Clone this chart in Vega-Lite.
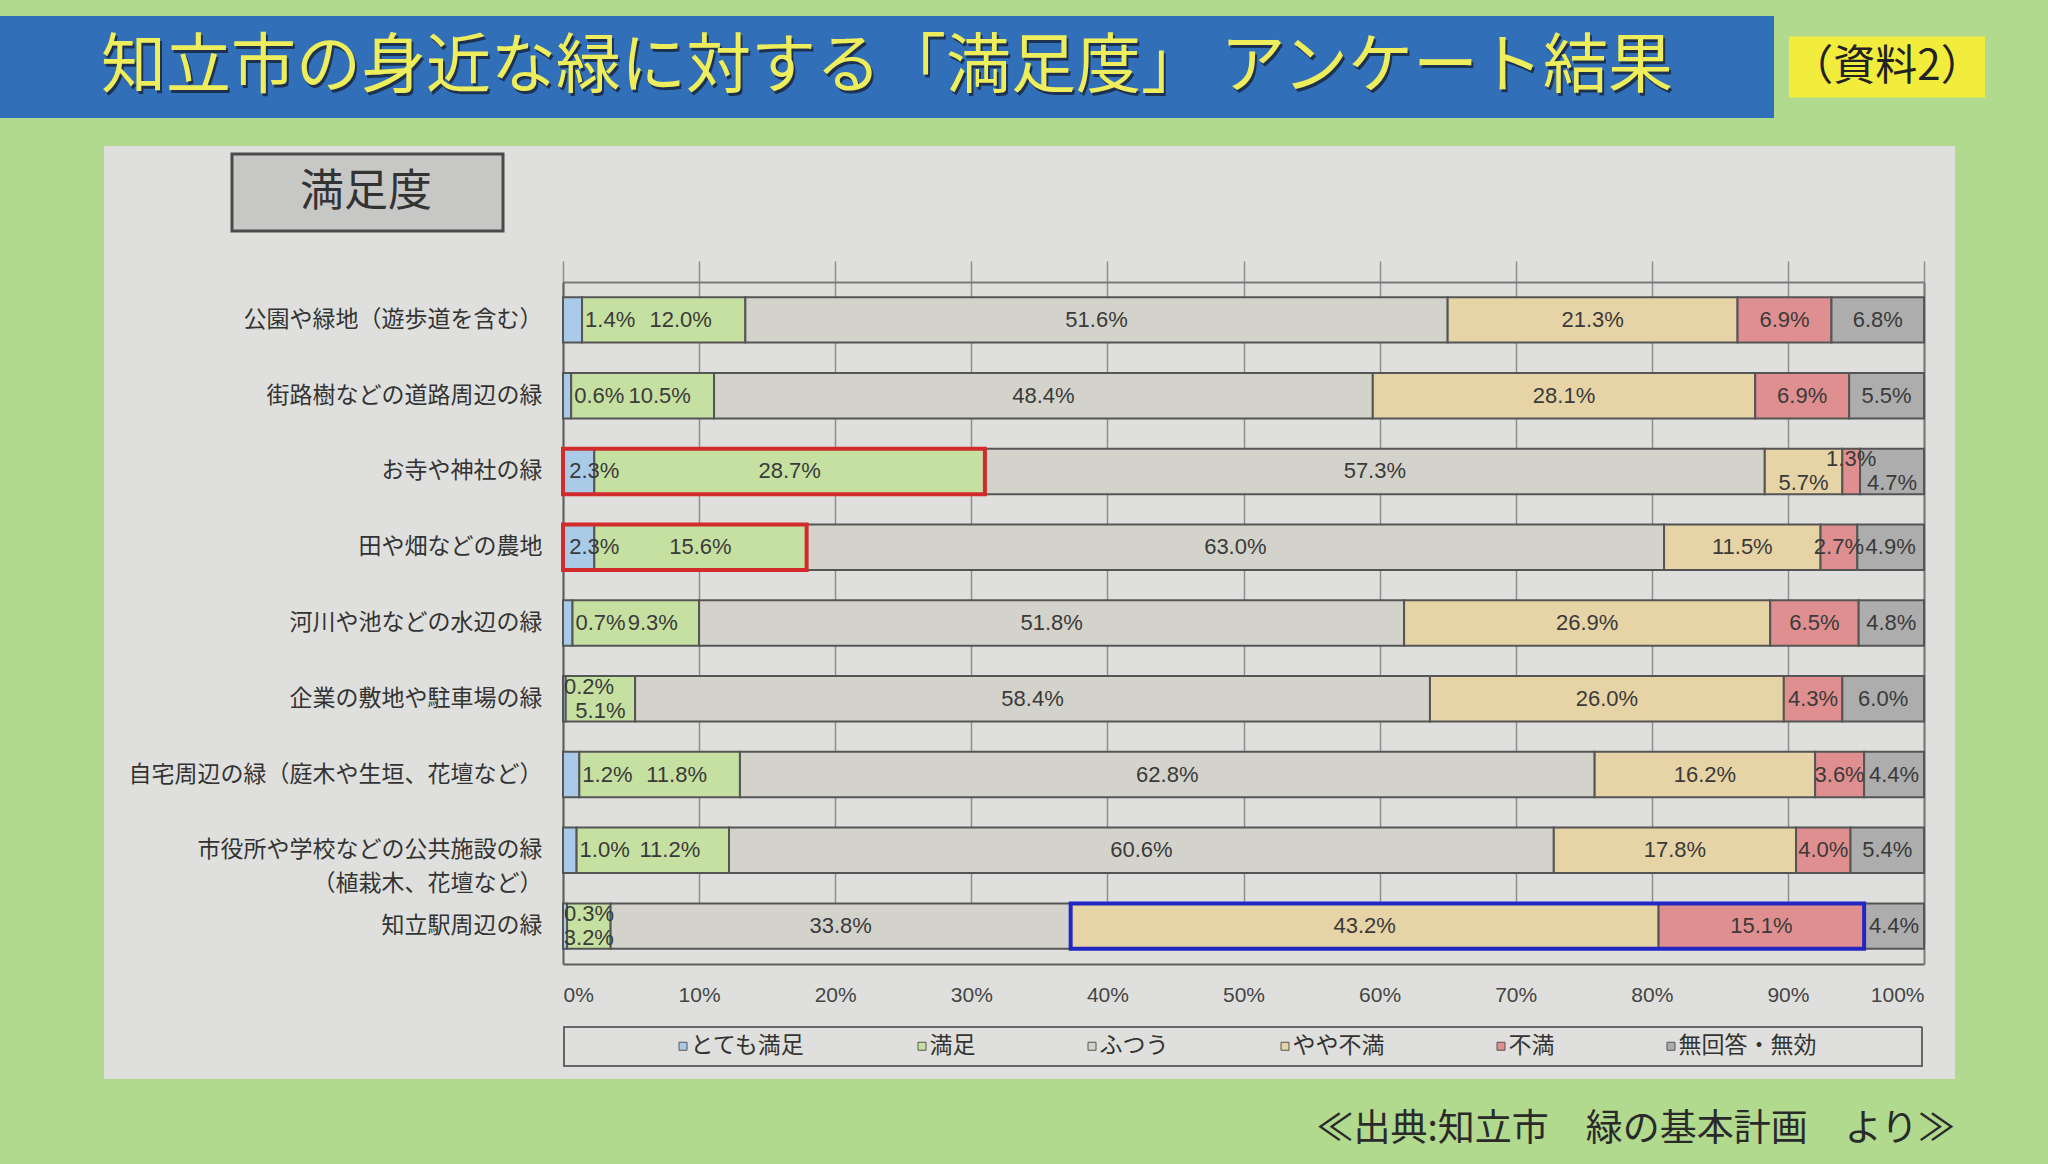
{
  "$schema": "https://vega.github.io/schema/vega-lite/v6.json",
  "background": "#b1da8e",
  "padding": {"left": 0, "top": 16, "right": 63, "bottom": 20},
  "spacing": 28,
  "config": {
    "font": "Noto Sans CJK JP",
    "view": {"stroke": null}
  },
  "vconcat": [
    {
      "hconcat": [
        {
          "width": 1774,
          "height": 102,
          "view": {"fill": "#3170b8", "stroke": null},
          "data": {"values": [{"t": "知立市の身近な緑に対する「満足度」 アンケート結果"}]},
          "layer": [
            {"mark": {"type": "text", "fontSize": 65, "color": "#1d3150", "dx": 2, "dy": 3}, "encoding": {"text": {"field": "t"}}},
            {"mark": {"type": "text", "fontSize": 65, "color": "#eeee5c"}, "encoding": {"text": {"field": "t"}}}
          ]
        },
        {
          "width": 196,
          "height": 61,
          "view": {"fill": "#f2ec3d", "stroke": null},
          "data": {"values": [{"t": "（資料2）"}]},
          "mark": {"type": "text", "fontSize": 42, "color": "#222222"},
          "encoding": {"text": {"field": "t"}}
        }
      ],
      "spacing": 15,
      "center": true
    },
    {
      "hconcat": [
        {
          "width": 89,
          "height": 10,
          "view": {"stroke": null},
          "data": {"values": []},
          "layer": [
            {
              "mark": {"type": "point", "filled": false, "fill": "#c7c8c6", "stroke": "#4a4a4a", "strokeWidth": 3, "opacity": 1},
              "encoding": {
                "shape": {"datum": "満足度", "scale": {"range": ["M-1,-0.2841H1V0.2841H-1Z"]},
                  "legend": {"orient": "none", "legendX": 230.5, "legendY": 39.5, "title": null, "padding": 0, "symbolSize": 73441, "symbolStrokeWidth": 3, "symbolFillColor": "#c7c8c6", "symbolStrokeColor": "#4a4a4a", "symbolOpacity": 1, "labelFontSize": 44, "labelColor": "#333333", "labelOffset": -204.5, "labelLimit": 400}}
              }
            },
            {
              "mark": {"type": "point", "filled": false, "strokeWidth": 3, "opacity": 1},
              "encoding": {
                "stroke": {"datum": "満足度枠", "scale": {"range": ["#4a4a4a"]},
                  "legend": {"orient": "none", "legendX": 230.5, "legendY": 39.5, "title": null, "padding": 0, "symbolType": "M-1,-0.2841H1V0.2841H-1Z", "symbolSize": 73441, "symbolStrokeWidth": 3, "symbolFillColor": "transparent", "symbolOpacity": 1, "labelExpr": "''", "labelFontSize": 44}}
              }
            },
            {
              "mark": {"type": "point", "filled": false, "stroke": "#666666", "strokeWidth": 2, "opacity": 1},
              "encoding": {
                "strokeDash": {"datum": "枠", "scale": {"range": [[1, 0]]},
                  "legend": {"orient": "none", "legendX": 563, "legendY": 350.5, "title": null, "padding": 0, "symbolType": "M-1,-0.0287H1V0.0287H-1Z", "symbolSize": 1844164, "symbolStrokeWidth": 2, "symbolStrokeColor": "#666666", "symbolFillColor": "transparent", "symbolOpacity": 1, "labelExpr": "''", "labelFontSize": 1}}
              }
            }
          ]
        },
        {
          "width": 1851,
          "height": 933,
          "view": {"fill": "#dfe0dd", "stroke": null},
          "title": {"text": "≪出典:知立市　緑の基本計画　より≫", "orient": "bottom", "anchor": "end", "frame": "group", "offset": 33, "fontSize": 37, "fontWeight": "normal", "color": "#2a2a2a"},
          "data": {"values": [
            {"item": "公園や緑地（遊歩道を含む）", "level": "とても満足", "k": 1, "v": 0.014},
            {"item": "公園や緑地（遊歩道を含む）", "level": "満足", "k": 2, "v": 0.120},
            {"item": "公園や緑地（遊歩道を含む）", "level": "ふつう", "k": 3, "v": 0.516},
            {"item": "公園や緑地（遊歩道を含む）", "level": "やや不満", "k": 4, "v": 0.213},
            {"item": "公園や緑地（遊歩道を含む）", "level": "不満", "k": 5, "v": 0.069},
            {"item": "公園や緑地（遊歩道を含む）", "level": "無回答・無効", "k": 6, "v": 0.068},
            {"item": "街路樹などの道路周辺の緑", "level": "とても満足", "k": 1, "v": 0.006},
            {"item": "街路樹などの道路周辺の緑", "level": "満足", "k": 2, "v": 0.105},
            {"item": "街路樹などの道路周辺の緑", "level": "ふつう", "k": 3, "v": 0.484},
            {"item": "街路樹などの道路周辺の緑", "level": "やや不満", "k": 4, "v": 0.281},
            {"item": "街路樹などの道路周辺の緑", "level": "不満", "k": 5, "v": 0.069},
            {"item": "街路樹などの道路周辺の緑", "level": "無回答・無効", "k": 6, "v": 0.055},
            {"item": "お寺や神社の緑", "level": "とても満足", "k": 1, "v": 0.023},
            {"item": "お寺や神社の緑", "level": "満足", "k": 2, "v": 0.287},
            {"item": "お寺や神社の緑", "level": "ふつう", "k": 3, "v": 0.573},
            {"item": "お寺や神社の緑", "level": "やや不満", "k": 4, "v": 0.057},
            {"item": "お寺や神社の緑", "level": "不満", "k": 5, "v": 0.013},
            {"item": "お寺や神社の緑", "level": "無回答・無効", "k": 6, "v": 0.047},
            {"item": "田や畑などの農地", "level": "とても満足", "k": 1, "v": 0.023},
            {"item": "田や畑などの農地", "level": "満足", "k": 2, "v": 0.156},
            {"item": "田や畑などの農地", "level": "ふつう", "k": 3, "v": 0.630},
            {"item": "田や畑などの農地", "level": "やや不満", "k": 4, "v": 0.115},
            {"item": "田や畑などの農地", "level": "不満", "k": 5, "v": 0.027},
            {"item": "田や畑などの農地", "level": "無回答・無効", "k": 6, "v": 0.049},
            {"item": "河川や池などの水辺の緑", "level": "とても満足", "k": 1, "v": 0.007},
            {"item": "河川や池などの水辺の緑", "level": "満足", "k": 2, "v": 0.093},
            {"item": "河川や池などの水辺の緑", "level": "ふつう", "k": 3, "v": 0.518},
            {"item": "河川や池などの水辺の緑", "level": "やや不満", "k": 4, "v": 0.269},
            {"item": "河川や池などの水辺の緑", "level": "不満", "k": 5, "v": 0.065},
            {"item": "河川や池などの水辺の緑", "level": "無回答・無効", "k": 6, "v": 0.048},
            {"item": "企業の敷地や駐車場の緑", "level": "とても満足", "k": 1, "v": 0.002},
            {"item": "企業の敷地や駐車場の緑", "level": "満足", "k": 2, "v": 0.051},
            {"item": "企業の敷地や駐車場の緑", "level": "ふつう", "k": 3, "v": 0.584},
            {"item": "企業の敷地や駐車場の緑", "level": "やや不満", "k": 4, "v": 0.260},
            {"item": "企業の敷地や駐車場の緑", "level": "不満", "k": 5, "v": 0.043},
            {"item": "企業の敷地や駐車場の緑", "level": "無回答・無効", "k": 6, "v": 0.060},
            {"item": "自宅周辺の緑（庭木や生垣、花壇など）", "level": "とても満足", "k": 1, "v": 0.012},
            {"item": "自宅周辺の緑（庭木や生垣、花壇など）", "level": "満足", "k": 2, "v": 0.118},
            {"item": "自宅周辺の緑（庭木や生垣、花壇など）", "level": "ふつう", "k": 3, "v": 0.628},
            {"item": "自宅周辺の緑（庭木や生垣、花壇など）", "level": "やや不満", "k": 4, "v": 0.162},
            {"item": "自宅周辺の緑（庭木や生垣、花壇など）", "level": "不満", "k": 5, "v": 0.036},
            {"item": "自宅周辺の緑（庭木や生垣、花壇など）", "level": "無回答・無効", "k": 6, "v": 0.044},
            {"item": "市役所や学校などの公共施設の緑（植栽木、花壇など）", "level": "とても満足", "k": 1, "v": 0.010},
            {"item": "市役所や学校などの公共施設の緑（植栽木、花壇など）", "level": "満足", "k": 2, "v": 0.112},
            {"item": "市役所や学校などの公共施設の緑（植栽木、花壇など）", "level": "ふつう", "k": 3, "v": 0.606},
            {"item": "市役所や学校などの公共施設の緑（植栽木、花壇など）", "level": "やや不満", "k": 4, "v": 0.178},
            {"item": "市役所や学校などの公共施設の緑（植栽木、花壇など）", "level": "不満", "k": 5, "v": 0.040},
            {"item": "市役所や学校などの公共施設の緑（植栽木、花壇など）", "level": "無回答・無効", "k": 6, "v": 0.054},
            {"item": "知立駅周辺の緑", "level": "とても満足", "k": 1, "v": 0.003},
            {"item": "知立駅周辺の緑", "level": "満足", "k": 2, "v": 0.032},
            {"item": "知立駅周辺の緑", "level": "ふつう", "k": 3, "v": 0.338},
            {"item": "知立駅周辺の緑", "level": "やや不満", "k": 4, "v": 0.432},
            {"item": "知立駅周辺の緑", "level": "不満", "k": 5, "v": 0.151},
            {"item": "知立駅周辺の緑", "level": "無回答・無効", "k": 6, "v": 0.044}
          ]},
          "resolve": {"axis": {"x": "independent", "y": "independent"}},
          "layer": [
            {
              "mark": {"type": "bar", "stroke": "#555555", "strokeWidth": 2},
              "encoding": {
                "y": {"field": "item", "type": "nominal", "title": null,
                  "sort": ["公園や緑地（遊歩道を含む）", "街路樹などの道路周辺の緑", "お寺や神社の緑", "田や畑などの農地", "河川や池などの水辺の緑", "企業の敷地や駐車場の緑", "自宅周辺の緑（庭木や生垣、花壇など）", "市役所や学校などの公共施設の緑（植栽木、花壇など）", "知立駅周辺の緑"],
                  "scale": {"range": [136, 818], "paddingInner": 0.4, "paddingOuter": 0.2},
                  "axis": {"orient": "left", "offset": -459, "domain": true, "domainColor": "#5f5f5f", "domainWidth": 2, "ticks": false, "tickSize": 0, "grid": false, "labelPadding": 21, "labelFontSize": 23, "labelColor": "#333333", "labelLimit": 600, "labelLineHeight": 34,
                    "labelExpr": "datum.value === '市役所や学校などの公共施設の緑（植栽木、花壇など）' ? ['市役所や学校などの公共施設の緑', '（植栽木、花壇など）　　　'] : datum.label"}},
                "x": {"field": "v", "type": "quantitative", "stack": "zero", "title": null,
                  "scale": {"domain": [0, 1], "range": [459, 1820], "nice": false},
                  "axis": {"orient": "bottom", "offset": -115, "values": [0, 0.1, 0.2, 0.3, 0.4, 0.5, 0.6, 0.7, 0.8, 0.9, 1], "format": ".0%", "domain": true, "domainColor": "#5f5f5f", "domainWidth": 2, "ticks": false, "tickSize": 0, "labelPadding": 20, "labelFont": "Liberation Sans Narrow, Liberation Sans, sans-serif", "labelFontSize": 21, "labelColor": "#444444", "grid": true, "gridColor": "#8e8e8e", "gridWidth": 1.5}},
                "color": {"field": "level", "type": "nominal",
                  "scale": {"domain": ["とても満足", "満足", "ふつう", "やや不満", "不満", "無回答・無効"], "range": ["#a9cbe8", "#c6e0a2", "#d4d3cb", "#e6d3a6", "#df8f8f", "#adadad"]},
                  "legend": {"orient": "none", "legendX": 671.5, "legendY": 1018.5, "direction": "horizontal", "columns": 6, "title": null, "padding": 0, "labelFontSize": 23, "labelColor": "#333333", "symbolType": "square", "symbolSize": 64, "symbolStrokeColor": "#555555", "symbolStrokeWidth": 1, "labelOffset": -4, "columnPadding": 105}},
                "order": {"field": "k", "type": "quantitative"}
              }
            },
            {
              "transform": [
                {"stack": "v", "groupby": ["item"], "sort": [{"field": "k", "order": "ascending"}], "as": ["s0", "s1"]},
                {"filter": {"field": "item", "oneOf": ["お寺や神社の緑", "田や畑などの農地"]}},
                {"filter": {"field": "level", "oneOf": ["とても満足", "満足"]}},
                {"aggregate": [{"op": "min", "field": "s0", "as": "a"}, {"op": "max", "field": "s1", "as": "b"}], "groupby": ["item"]}
              ],
              "mark": {"type": "bar", "filled": false, "stroke": "#d22b2b", "strokeWidth": 4},
              "encoding": {
                "y": {"field": "item", "type": "nominal", "title": null,
                  "sort": ["公園や緑地（遊歩道を含む）", "街路樹などの道路周辺の緑", "お寺や神社の緑", "田や畑などの農地", "河川や池などの水辺の緑", "企業の敷地や駐車場の緑", "自宅周辺の緑（庭木や生垣、花壇など）", "市役所や学校などの公共施設の緑（植栽木、花壇など）", "知立駅周辺の緑"],
                  "axis": {"orient": "right", "offset": -31, "labels": false, "ticks": false, "tickSize": 0, "grid": false, "domain": true, "domainColor": "#7a7a7a", "domainWidth": 2}},
                "x": {"field": "a", "type": "quantitative", "title": null,
                  "axis": {"orient": "top", "offset": -136, "labels": false, "ticks": false, "tickSize": 0, "grid": false, "domain": true, "domainColor": "#7a7a7a", "domainWidth": 2}},
                "x2": {"field": "b"}
              }
            },
            {
              "transform": [
                {"stack": "v", "groupby": ["item"], "sort": [{"field": "k", "order": "ascending"}], "as": ["s0", "s1"]},
                {"filter": {"field": "item", "oneOf": ["知立駅周辺の緑"]}},
                {"filter": {"field": "level", "oneOf": ["やや不満", "不満"]}},
                {"aggregate": [{"op": "min", "field": "s0", "as": "a"}, {"op": "max", "field": "s1", "as": "b"}], "groupby": ["item"]}
              ],
              "mark": {"type": "bar", "filled": false, "stroke": "#2327c2", "strokeWidth": 4},
              "encoding": {
                "y": {"field": "item", "type": "nominal", "axis": null,
                  "sort": ["公園や緑地（遊歩道を含む）", "街路樹などの道路周辺の緑", "お寺や神社の緑", "田や畑などの農地", "河川や池などの水辺の緑", "企業の敷地や駐車場の緑", "自宅周辺の緑（庭木や生垣、花壇など）", "市役所や学校などの公共施設の緑（植栽木、花壇など）", "知立駅周辺の緑"]},
                "x": {"field": "a", "type": "quantitative", "axis": null},
                "x2": {"field": "b"}
              }
            },
            {
              "mark": {"type": "text", "font": "Liberation Sans Narrow, Liberation Sans, sans-serif", "fontSize": 22, "color": "#3a3a3a"},
              "encoding": {
                "y": {"field": "item", "type": "nominal", "axis": null, "sort": ["公園や緑地（遊歩道を含む）", "街路樹などの道路周辺の緑", "お寺や神社の緑", "田や畑などの農地", "河川や池などの水辺の緑", "企業の敷地や駐車場の緑", "自宅周辺の緑（庭木や生垣、花壇など）", "市役所や学校などの公共施設の緑（植栽木、花壇など）", "知立駅周辺の緑"]},
                "x": {"field": "v", "type": "quantitative", "stack": "zero", "bandPosition": 0.5, "axis": null},
                "detail": {"field": "level"},
                "order": {"field": "k", "type": "quantitative"},
                "text": {"condition": {"test": "datum.level === 'とても満足' || (datum.level === '満足' && datum.item !== 'お寺や神社の緑' && datum.item !== '田や畑などの農地') || (datum.item === 'お寺や神社の緑' && (datum.level === 'やや不満' || datum.level === '不満' || datum.level === '無回答・無効'))", "value": ""}, "field": "v", "type": "quantitative", "format": ".1%"}
              }
            },
            {
              "mark": {"type": "text", "font": "Liberation Sans Narrow, Liberation Sans, sans-serif", "fontSize": 22, "color": "#3a3a3a", "dx": 17},
              "encoding": {
                "y": {"field": "item", "type": "nominal", "axis": null, "sort": ["公園や緑地（遊歩道を含む）", "街路樹などの道路周辺の緑", "お寺や神社の緑", "田や畑などの農地", "河川や池などの水辺の緑", "企業の敷地や駐車場の緑", "自宅周辺の緑（庭木や生垣、花壇など）", "市役所や学校などの公共施設の緑（植栽木、花壇など）", "知立駅周辺の緑"]},
                "x": {"field": "v", "type": "quantitative", "stack": "zero", "bandPosition": 0.5, "axis": null},
                "detail": {"field": "level"},
                "order": {"field": "k", "type": "quantitative"},
                "text": {"condition": {"test": "!(datum.level === '満足' && indexof(['お寺や神社の緑', '田や畑などの農地', '企業の敷地や駐車場の緑', '知立駅周辺の緑'], datum.item) < 0)", "value": ""}, "field": "v", "type": "quantitative", "format": ".1%"}
              }
            },
            {
              "mark": {"type": "text", "font": "Liberation Sans Narrow, Liberation Sans, sans-serif", "fontSize": 22, "color": "#3a3a3a", "align": "left", "dx": 3},
              "encoding": {
                "y": {"field": "item", "type": "nominal", "axis": null, "sort": ["公園や緑地（遊歩道を含む）", "街路樹などの道路周辺の緑", "お寺や神社の緑", "田や畑などの農地", "河川や池などの水辺の緑", "企業の敷地や駐車場の緑", "自宅周辺の緑（庭木や生垣、花壇など）", "市役所や学校などの公共施設の緑（植栽木、花壇など）", "知立駅周辺の緑"]},
                "x": {"field": "v", "type": "quantitative", "stack": "zero", "bandPosition": 1, "axis": null},
                "detail": {"field": "level"},
                "order": {"field": "k", "type": "quantitative"},
                "text": {"condition": {"test": "!(datum.level === 'とても満足' && indexof(['お寺や神社の緑', '田や畑などの農地', '企業の敷地や駐車場の緑', '知立駅周辺の緑'], datum.item) < 0)", "value": ""}, "field": "v", "type": "quantitative", "format": ".1%"}
              }
            },
            {
              "mark": {"type": "text", "font": "Liberation Sans Narrow, Liberation Sans, sans-serif", "fontSize": 22, "color": "#3a3a3a"},
              "encoding": {
                "y": {"field": "item", "type": "nominal", "axis": null, "sort": ["公園や緑地（遊歩道を含む）", "街路樹などの道路周辺の緑", "お寺や神社の緑", "田や畑などの農地", "河川や池などの水辺の緑", "企業の敷地や駐車場の緑", "自宅周辺の緑（庭木や生垣、花壇など）", "市役所や学校などの公共施設の緑（植栽木、花壇など）", "知立駅周辺の緑"]},
                "x": {"field": "v", "type": "quantitative", "stack": "zero", "bandPosition": 1, "axis": null},
                "detail": {"field": "level"},
                "order": {"field": "k", "type": "quantitative"},
                "text": {"condition": {"test": "!(datum.level === 'とても満足' && (datum.item === 'お寺や神社の緑' || datum.item === '田や畑などの農地'))", "value": ""}, "field": "v", "type": "quantitative", "format": ".1%"}
              }
            },
            {
              "mark": {"type": "text", "font": "Liberation Sans Narrow, Liberation Sans, sans-serif", "fontSize": 22, "color": "#3a3a3a", "align": "left", "dx": 1, "dy": -12},
              "encoding": {
                "y": {"field": "item", "type": "nominal", "axis": null, "sort": ["公園や緑地（遊歩道を含む）", "街路樹などの道路周辺の緑", "お寺や神社の緑", "田や畑などの農地", "河川や池などの水辺の緑", "企業の敷地や駐車場の緑", "自宅周辺の緑（庭木や生垣、花壇など）", "市役所や学校などの公共施設の緑（植栽木、花壇など）", "知立駅周辺の緑"]},
                "x": {"field": "v", "type": "quantitative", "stack": "zero", "bandPosition": 0, "axis": null},
                "detail": {"field": "level"},
                "order": {"field": "k", "type": "quantitative"},
                "text": {"condition": {"test": "!(datum.level === 'とても満足' && (datum.item === '企業の敷地や駐車場の緑' || datum.item === '知立駅周辺の緑'))", "value": ""}, "field": "v", "type": "quantitative", "format": ".1%"}
              }
            },
            {
              "mark": {"type": "text", "font": "Liberation Sans Narrow, Liberation Sans, sans-serif", "fontSize": 22, "color": "#3a3a3a", "dy": -12},
              "encoding": {
                "y": {"field": "item", "type": "nominal", "axis": null, "sort": ["公園や緑地（遊歩道を含む）", "街路樹などの道路周辺の緑", "お寺や神社の緑", "田や畑などの農地", "河川や池などの水辺の緑", "企業の敷地や駐車場の緑", "自宅周辺の緑（庭木や生垣、花壇など）", "市役所や学校などの公共施設の緑（植栽木、花壇など）", "知立駅周辺の緑"]},
                "x": {"field": "v", "type": "quantitative", "stack": "zero", "bandPosition": 0.5, "axis": null},
                "detail": {"field": "level"},
                "order": {"field": "k", "type": "quantitative"},
                "text": {"condition": {"test": "!(datum.item === 'お寺や神社の緑' && datum.level === '不満')", "value": ""}, "field": "v", "type": "quantitative", "format": ".1%"}
              }
            },
            {
              "mark": {"type": "text", "font": "Liberation Sans Narrow, Liberation Sans, sans-serif", "fontSize": 22, "color": "#3a3a3a", "dy": 12},
              "encoding": {
                "y": {"field": "item", "type": "nominal", "axis": null, "sort": ["公園や緑地（遊歩道を含む）", "街路樹などの道路周辺の緑", "お寺や神社の緑", "田や畑などの農地", "河川や池などの水辺の緑", "企業の敷地や駐車場の緑", "自宅周辺の緑（庭木や生垣、花壇など）", "市役所や学校などの公共施設の緑（植栽木、花壇など）", "知立駅周辺の緑"]},
                "x": {"field": "v", "type": "quantitative", "stack": "zero", "bandPosition": 0.5, "axis": null},
                "detail": {"field": "level"},
                "order": {"field": "k", "type": "quantitative"},
                "text": {"condition": {"test": "!((datum.level === '満足' && (datum.item === '企業の敷地や駐車場の緑' || datum.item === '知立駅周辺の緑')) || (datum.item === 'お寺や神社の緑' && (datum.level === 'やや不満' || datum.level === '無回答・無効')))", "value": ""}, "field": "v", "type": "quantitative", "format": ".1%"}
              }
            }
          ]
        }
      ],
      "spacing": 15
    }
  ]
}
